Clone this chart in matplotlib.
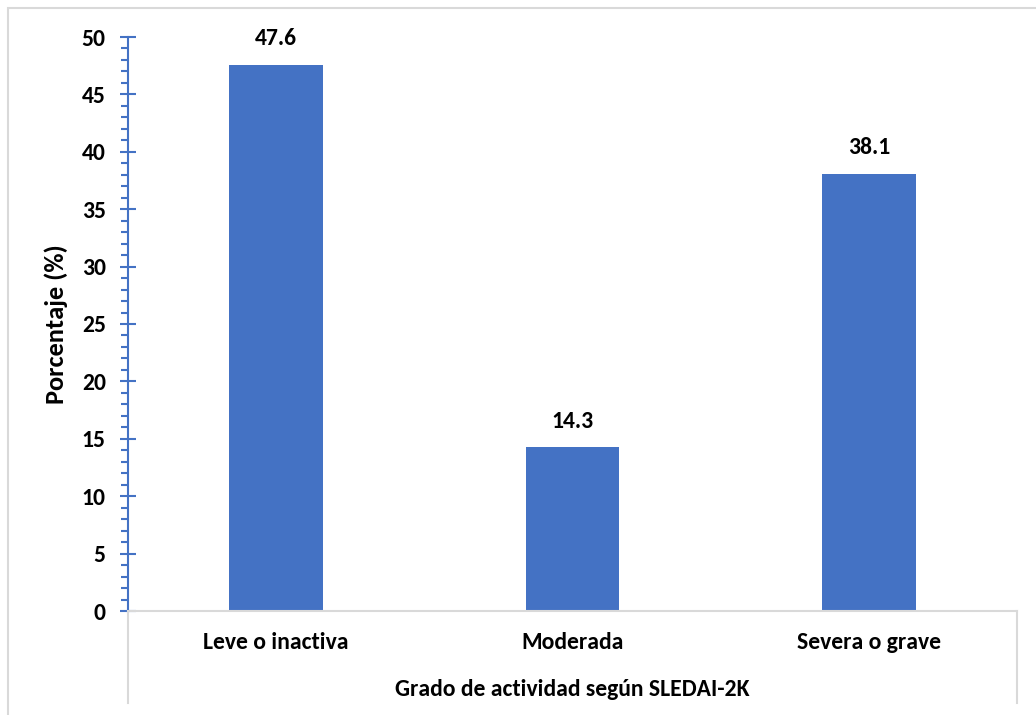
import matplotlib
matplotlib.use("Agg")

import matplotlib.pyplot as plt
from matplotlib.lines import Line2D
from matplotlib.patches import Rectangle
from matplotlib.ticker import MultipleLocator

plt.rcParams["font.family"] = ["Carlito", "Lato", "DejaVu Sans"]
plt.rcParams["font.weight"] = "bold"

# ---------------------------------------------------------------------------
# Data
# ---------------------------------------------------------------------------
categories = ["Leve o inactiva", "Moderada", "Severa o grave"]
percentages = [47.6, 14.3, 38.1]
y_ticks = [0, 5, 10, 15, 20, 25, 30, 35, 40, 45, 50]

BAR_COLOUR = "#4472C4"
GRID_GREY = "#D9D9D9"
FS = 17
W, H = 1036, 715

fig = plt.figure(figsize=(W / 100, H / 100), dpi=100)
ax = fig.add_axes([128 / W, (H - 611) / H, (1017 - 128) / W, (611 - 37) / H])

x = range(len(categories))
bars = ax.bar(x, percentages, width=0.315, color=BAR_COLOUR)
for b, v in zip(bars, percentages):
    ax.annotate(f"{v:.1f}", (b.get_x() + b.get_width() / 2, v),
                xytext=(0, 11), textcoords="offset points",
                ha="center", va="bottom", fontsize=FS, fontweight="bold")

ax.set_xlim(-0.5, len(categories) - 0.5)
ax.set_ylim(0, 50)
ax.set_yticks(y_ticks)
ax.yaxis.set_minor_locator(MultipleLocator(1))
ax.set_xticks(list(x))
ax.set_xticklabels(categories, fontsize=FS, fontweight="bold")
ax.tick_params(axis="x", length=0, pad=15)
ax.tick_params(axis="y", which="major", direction="inout", length=12,
               width=1.5, color=BAR_COLOUR, labelsize=FS, pad=10)
ax.tick_params(axis="y", which="minor", direction="out", length=5,
               width=1.5, color=BAR_COLOUR)
for lbl in ax.get_yticklabels():
    lbl.set_fontweight("bold")

for side in ("top", "right"):
    ax.spines[side].set_visible(False)
ax.spines["left"].set_color(BAR_COLOUR)
ax.spines["left"].set_linewidth(1.5)
ax.spines["bottom"].set_color(GRID_GREY)
ax.spines["bottom"].set_linewidth(1.5)
ax.spines["left"].set_zorder(3)

ax.set_ylabel("Porcentaje (%)", fontsize=19, fontweight="bold", labelpad=10)

# category box below the axis
for xp in (128, 1017):
    fig.add_artist(Line2D([xp / W, xp / W], [(H - 611) / H, (H - 703) / H],
                          color=GRID_GREY, lw=1.5))
fig.text(572 / W, (H - 689) / H, "Grado de actividad según SLEDAI-2K",
         ha="center", va="center", fontsize=FS, fontweight="bold")

# outer chart border
fig.add_artist(Rectangle((8 / W, -0.1), 1.2, (H - 8) / H + 0.1,
                         transform=fig.transFigure, fill=False,
                         edgecolor=GRID_GREY, lw=1.5))

fig.savefig("out.png", dpi=100, facecolor="white")
